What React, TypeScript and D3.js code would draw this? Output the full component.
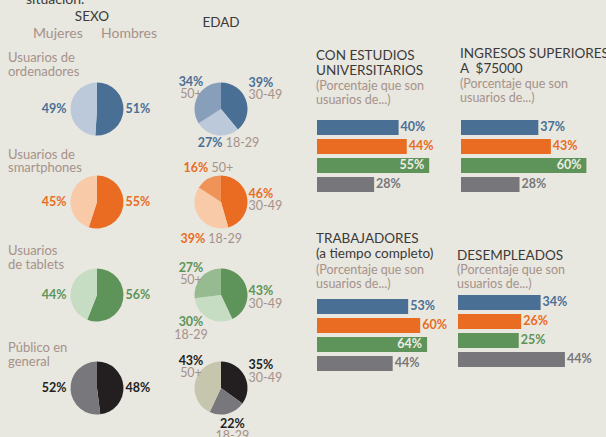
import React, { useEffect, useRef } from "react";
import * as d3 from "d3";

// rows of the pie section
const rowLabels = [
  ["Usuarios de", "ordenadores"],
  ["Usuarios de", "smartphones"],
  ["Usuarios", "de tablets"],
  ["Público en", "general"],
];
const sexLabels = ["Mujeres", "Hombres"];
const hombres = [51, 55, 56, 48];
const mujeres = [49, 45, 44, 52];

const ageGroups = ["30-49", "18-29", "50+"];
const age3049 = [39, 46, 43, 35];
const age1829 = [27, 39, 30, 22];
const age50 = [34, 16, 27, 43];

// bar panels
const barSeries = ["ordenadores", "smartphones", "tablets", "general"];
const panelTitles = [
  ["CON ESTUDIOS", "UNIVERSITARIOS"],
  ["INGRESOS SUPERIORES", "A  $75000"],
  ["TRABAJADORES", "(a tiempo completo)"],
  ["DESEMPLEADOS"],
];
const universitarios = [40, 44, 55, 28];
const ingresos = [37, 43, 60, 28];
const trabajadores = [53, 60, 64, 44];
const desempleados = [34, 26, 25, 44];

const palette = [
  { dark: "#4a6f94", light: "#bcc9db", mid: "#879fbb", text: "#4a6f96" },
  { dark: "#ea6c22", light: "#f8caa8", mid: "#f09358", text: "#e96d23" },
  { dark: "#5e9459", light: "#c6dcc3", mid: "#97bb90", text: "#5e9459" },
  { dark: "#231f20", light: "#78787c", mid: "#c6c6ae", text: "#231f20" },
];
const barColors = ["#4a6f94", "#ea6c22", "#5e9459", "#77777b"];
const taupe = "#a6928a";
const ink = "#3b3a38";
const font = "Lato, 'Open Sans', sans-serif";

// label layout for the age pies: stacked (two lines) or inline, plus small nudges
const ageLabelMode = [
  ["stack", "inline", "stack"],
  ["stack", "inline", "inline"],
  ["stack", "stack", "stack"],
  ["stack", "stack", "stack"],
];
const ageLabelNudge = [
  [[0, -9], [7, -3], [0, 0]],
  [[0, 0], [0, 0], [-8, 0]],
  [[0, 8], [0, 0], [0, 0]],
  [[0, 0], [0, 0], [0, 0]],
];

const W = 606;
const H = 437;

export default function App() {
  const ref = useRef<SVGSVGElement>(null);

  useEffect(() => {
    const svg = d3.select(ref.current);
    svg.selectAll("*").remove();
    svg.append("rect").attr("width", W).attr("height", H).attr("fill", "#e8e7e0");

    const root = svg.append("g").attr("font-family", font);

    // header
    root.append("text").attr("x", 26).attr("y", 4).attr("font-size", 14).attr("fill", ink).text("situación.");
    root.append("text").attr("x", 92).attr("y", 21).attr("text-anchor", "middle").attr("font-size", 13.5).attr("fill", ink).text("SEXO");
    root.append("text").attr("x", 221).attr("y", 27).attr("text-anchor", "middle").attr("font-size", 13.5).attr("fill", ink).text("EDAD");
    root.append("text").attr("x", 33).attr("y", 38).attr("font-size", 14).attr("fill", taupe).text(sexLabels[0]);
    root.append("text").attr("x", 101).attr("y", 38).attr("font-size", 14).attr("fill", taupe).text(sexLabels[1]);

    const rowY = d3.scalePoint<number>().domain(d3.range(4)).range([109, 388]);
    const rowLabelY = d3.scalePoint<number>().domain(d3.range(4)).range([62, 352]);
    const sexX = 97;
    const ageX = 221;
    const r = 26.5;

    const pie = d3.pie<number>().sort(null).value((d) => d);
    const arc = d3.arc<d3.PieArcDatum<number>>().innerRadius(0).outerRadius(r);

    d3.range(4).forEach((i) => {
      const cy = rowY(i)!;
      const col = palette[i];

      rowLabels[i].forEach((line, j) => {
        root.append("text").attr("x", 8).attr("y", rowLabelY(i)! + j * 13.5)
          .attr("font-size", 13).attr("fill", taupe).text(line);
      });

      // sex pie: hombres first, clockwise from top
      const sexArcs = pie([hombres[i], mujeres[i]]);
      const sg = root.append("g").attr("transform", `translate(${sexX},${cy})`);
      sg.selectAll("path").data(sexArcs).enter().append("path")
        .attr("d", arc).attr("fill", (d, k) => (k === 0 ? col.dark : col.light));
      sexArcs.forEach((a, k) => {
        sg.append("text")
          .attr("x", k === 0 ? r + 2 : -(r + 4))
          .attr("y", 4)
          .attr("text-anchor", k === 0 ? "start" : "end")
          .attr("font-size", 12.5).attr("font-weight", 700).attr("fill", col.text)
          .text(`${a.data}%`);
      });

      // age pie
      const ageArcs = pie([age3049[i], age1829[i], age50[i]]);
      const ag = root.append("g").attr("transform", `translate(${ageX},${cy})`);
      ag.selectAll("path").data(ageArcs).enter().append("path")
        .attr("d", arc).attr("fill", (d, k) => [col.dark, col.light, col.mid][k]);

      const R = r + 19;
      ageArcs.forEach((a, k) => {
        const m = (a.startAngle + a.endAngle) / 2;
        const sx = Math.sin(m);
        const sy = -Math.cos(m);
        const [nx, ny] = ageLabelNudge[i][k];
        const pct = `${a.data}%`;
        const pair = (x: number, y: number, anchor: string) => {
          ag.append("text").attr("x", x).attr("y", y).attr("text-anchor", anchor)
            .attr("font-size", 12.5).attr("font-weight", 700).attr("fill", col.text).text(pct);
          ag.append("text").attr("x", x).attr("y", y + 12.5).attr("text-anchor", anchor)
            .attr("font-size", 12.5).attr("fill", taupe).text(ageGroups[k]);
        };
        if (ageLabelMode[i][k] === "inline") {
          const bx = 0.35 * R * sx + 3 + nx;
          const base = (sy > 0 ? r + 14 : -(r + 4)) + ny;
          const t = ag.append("text").attr("x", bx).attr("y", base)
            .attr("text-anchor", "middle").attr("font-size", 12.5)
            .attr("style", "white-space:pre");
          t.append("tspan").attr("font-weight", 700).attr("fill", col.text).text(pct);
          t.append("tspan").attr("fill", taupe).text(" " + ageGroups[k]);
        } else if (sx > 0.5) {
          // right side: left-aligned block beside the pie
          pair(r + 1 + nx, R * sy + 2 + ny, "start");
        } else if (sx < 0) {
          // left side: block above or below the left half
          pair(-30 + nx, (sy < 0 ? -23.5 : 31) + ny, "middle");
        } else {
          // bottom
          pair(R * sx + nx, r + 13 + ny, "middle");
        }
      });
    });

    // bar panels
    const panels = [
      { values: universitarios, x: 317, titleY: 60, subY: 90, barY: 120, max: 204 },
      { values: ingresos, x: 461, titleY: 58, subY: 88, barY: 120, max: 209 },
      { values: trabajadores, x: 317, titleY: 243, subY: 274, barY: 299, max: 172 },
      { values: desempleados, x: 458, titleY: 260, subY: 274, barY: 295, max: 243 },
    ];

    panels.forEach((p, pi) => {
      const g = root.append("g");
      panelTitles[pi].forEach((line, j) => {
        g.append("text").attr("x", p.x - 1).attr("y", p.titleY + j * 14.5)
          .attr("font-size", 13.5).attr("fill", ink).attr("style", "white-space:pre").text(line);
      });
      ["(Porcentaje que son", "usuarios de...)"].forEach((line, j) => {
        g.append("text").attr("x", p.x - 1).attr("y", p.subY + j * 13.5)
          .attr("font-size", 12.5).attr("fill", taupe).text(line);
      });

      const xs = d3.scaleLinear().domain([0, 100]).range([p.x, p.x + p.max]);
      const ys = d3.scaleBand<string>().domain(barSeries).range([p.barY, p.barY + 72]).paddingInner(4 / 19);

      g.selectAll("rect.bar").data(p.values).enter().append("rect")
        .attr("class", "bar")
        .attr("x", xs(0))
        .attr("y", (d, k) => ys(barSeries[k])!)
        .attr("width", (d) => xs(d) - xs(0))
        .attr("height", ys.bandwidth())
        .attr("fill", (d, k) => barColors[k]);

      g.selectAll("text.val").data(p.values).enter().append("text")
        .attr("class", "val")
        .attr("x", (d, k) => (k === 2 && d >= 50 ? xs(d) - 5 : xs(d) + 2))
        .attr("y", (d, k) => ys(barSeries[k])! + 11)
        .attr("text-anchor", (d, k) => (k === 2 && d >= 50 ? "end" : "start"))
        .attr("font-size", 12.5).attr("font-weight", 700)
        .attr("fill", (d, k) => (k === 2 && d >= 50 ? "#eeede6" : barColors[k]))
        .text((d) => `${d}%`);
    });
  }, []);

  return (
    <svg ref={ref} width={W} height={H} style={{ position: "absolute", left: 0, top: 0 }} />
  );
}
